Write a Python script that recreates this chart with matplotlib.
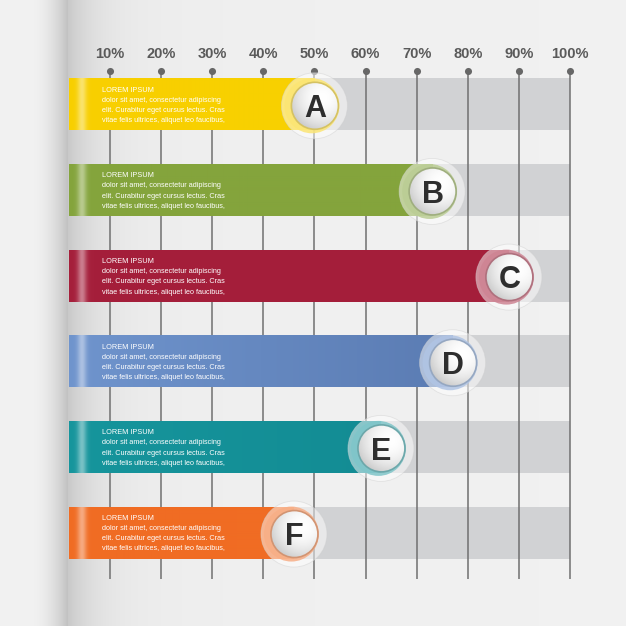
import numpy as np
import matplotlib
matplotlib.use('Agg')
import matplotlib.pyplot as plt
from matplotlib.patches import Ellipse
from matplotlib.colors import to_rgb

plt.rcParams['font.family'] = ['Liberation Sans', 'DejaVu Sans']

# ---- data ----
labels = ['A', 'B', 'C', 'D', 'E', 'F']
values = [50, 73, 88, 77, 63, 46]
colors = ['#f8cf00', '#84a43c', '#a51f3b', '#6f94cd', '#16959c', '#f06c23']
colors_end = ['#f8d100', '#84a43c', '#a41e3a', '#5b7cb3', '#138c94', '#f06c23']
ticks = [10, 20, 30, 40, 50, 60, 70, 80, 90, 100]
tick_labels = ['10%', '20%', '30%', '40%', '50%', '60%', '70%', '80%', '90%', '100%']
title_text = 'LOREM IPSUM'
body_lines = ['dolor sit amet, consectetur adipiscing',
              'elit. Curabitur eget cursus lectus. Cras',
              'vitae felis ultrices, aliquet leo faucibus,']

# ---- layout (pixel geometry) ----
W = 626
PX = 5.118      # pixels per percent
X0 = 58.5       # pixel of 0 %
RY = 85.65      # pixels per row
Y0 = 104.3      # pixel of row 0 centre
BAR_START = (69 - X0) / PX
BAR_H = 52 / RY

fig = plt.figure(figsize=(6.26, 6.26), dpi=100)
ax = fig.add_axes([0, 0, 1, 1])
xl = (-X0 / PX, (W - X0) / PX)
yl = ((W - Y0) / RY, -Y0 / RY)
ax.set_xlim(*xl)
ax.set_ylim(*yl)
ax.axis('off')

def dx(p):
    return p / PX

def dy(p):
    return p / RY

# ---- background with page fold shadow ----
xs = np.arange(W) + 0.5
prof = np.full(W, 0.947)
m1 = (xs > 30) & (xs < 68)
t = (xs[m1] - 30) / 38
prof[m1] = 0.947 - 0.19 * t ** 2
m2 = xs >= 68
t2 = xs[m2] - 68
prof[m2] = 0.947 - 0.14 * np.exp(-t2 / 28) - 0.02 * np.exp(-t2 / 200)
bg = np.repeat(prof[None, :, None], 3, axis=2)
ax.imshow(bg, extent=(xl[0], xl[1], yl[0], yl[1]), aspect='auto',
          interpolation='bilinear', zorder=0)

rows = np.arange(len(labels))

# grey track bars
ax.barh(rows, [100 - BAR_START] * len(rows), left=BAR_START, height=BAR_H,
        color='#d1d2d4', zorder=1, linewidth=0)

# vertical grid lines, dots and labels
ax.vlines(ticks, dy(71 - Y0), dy(579 - Y0), color='#707070', lw=1.1, zorder=2)
ax.scatter(ticks, [dy(71 - Y0)] * len(ticks), s=26, color='#676767', zorder=3,
           linewidths=0)
for tk, tl in zip(ticks, tick_labels):
    ax.text(tk, dy(58.3 - Y0), tl, ha='center', va='baseline', fontsize=10.5,
            fontweight='bold', color='#5a5a5a', zorder=3)

# coloured bars
for i, (v, c, ce) in enumerate(zip(values, colors, colors_end)):
    bars = ax.barh(i, v - BAR_START, left=BAR_START, height=BAR_H, color=c,
                   zorder=4, linewidth=0)
    # gradient + fold highlight
    left_px = X0 + BAR_START * PX
    right_px = X0 + v * PX
    n = int(right_px - left_px) + 1
    px = left_px + np.arange(n)
    f = np.linspace(0, 1, n)[:, None]
    col = (1 - f) * np.array(to_rgb(c)) + f * np.array(to_rgb(ce))
    hl = 0.42 * np.exp(-((px - 81.5) / 4.5) ** 2)
    col = col + (1 - col) * hl[:, None]
    img = np.repeat(col[None, :, :], 2, axis=0)
    ax.imshow(img, extent=(BAR_START, v, i + BAR_H / 2, i - BAR_H / 2),
              aspect='auto', interpolation='bilinear', zorder=4.5)
    # text
    tx = dx(102 - X0)
    ax.text(tx, i + dy(-12.7), title_text, fontsize=5.3, color='white',
            va='baseline', ha='left', zorder=5)
    for k, line in enumerate(body_lines):
        ax.text(tx, i + dy(-2.5 + 10.2 * k), line, fontsize=5.2, color='white',
                va='baseline', ha='left', zorder=5)

# circle badges
for i, (v, c, lab) in enumerate(zip(values, colors, labels)):
    cy = i + dy(1.5)
    halo = Ellipse((v, cy), 2 * dx(33), 2 * dy(33), fc='white', alpha=0.5,
                   ec='#d0d0d0', lw=0.6, zorder=6)
    ax.add_patch(halo)
    rc = np.array(to_rgb(c))
    tint = rc + (1 - rc) * 0.45
    ring = Ellipse((v - dx(2.5), cy), 2 * dx(27.5), 2 * dy(27.5), fc=tint,
                   ec='none', alpha=0.85, zorder=6.5)
    ax.add_patch(ring)
    r = 23.5
    disk = Ellipse((v + dx(0.5), cy), 2 * dx(r), 2 * dy(r), fc='white',
                   ec='none', zorder=7)
    ax.add_patch(disk)
    g = np.linspace(-1, 1, 80)
    gx, gy = np.meshgrid(g, g)
    d = np.sqrt((gx - 0.35) ** 2 + (gy + 0.35) ** 2)
    val = 1 - 0.24 * np.clip(d / 1.6, 0, 1) ** 2
    dimg = np.repeat(val[:, :, None], 3, axis=2)
    im = ax.imshow(dimg, extent=(v + dx(0.5) - dx(r), v + dx(0.5) + dx(r),
                                 cy + dy(r), cy - dy(r)),
                   aspect='auto', interpolation='bilinear', zorder=7.2)
    im.set_clip_path(disk)
    edge = Ellipse((v + dx(0.5), cy), 2 * dx(r), 2 * dy(r), fc='none',
                   ec=tint * 0.85, lw=1.2, zorder=7.5)
    ax.add_patch(edge)
    ax.text(v + dx(0.5), cy + dy(11.4), lab, fontsize=22, fontweight='bold',
            color='#2e2e2e', ha='center', va='baseline', zorder=8)

fig.savefig('out.png', dpi=100)
